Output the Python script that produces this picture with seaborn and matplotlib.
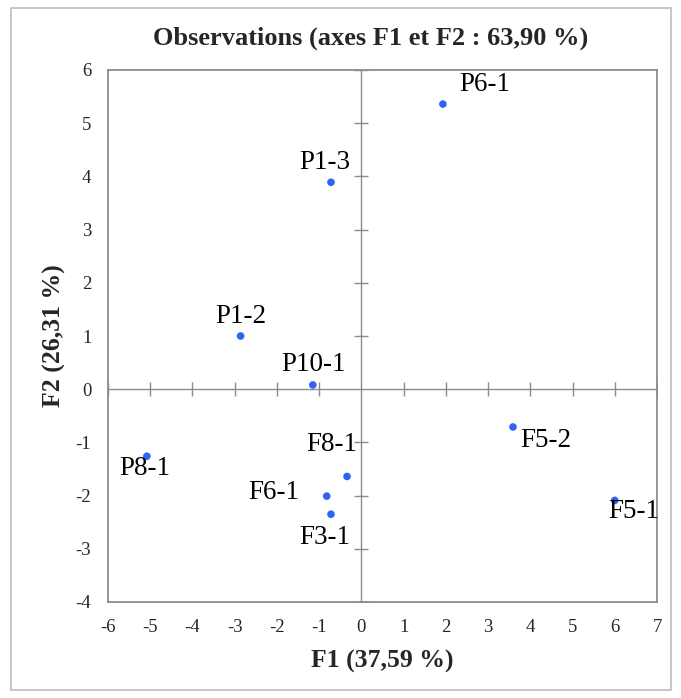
import matplotlib
matplotlib.use("Agg")
import matplotlib.pyplot as plt
import seaborn as sns
import pandas as pd
from matplotlib.patches import Rectangle

labels = ["P6-1", "P1-3", "P1-2", "P10-1", "P8-1", "F8-1", "F6-1", "F3-1", "F5-2", "F5-1"]
f1 = [1.93, -0.72, -2.86, -1.15, -5.08, -0.34, -0.82, -0.72, 3.59, 6.0]
f2 = [5.36, 3.89, 1.00, 0.08, -1.26, -1.64, -2.01, -2.35, -0.71, -2.09]
# label offsets in pixels (dx, dy) from the point to the label centre
offsets = {
    "P6-1": (42, 20),
    "P1-3": (-6, 20),
    "P1-2": (0, 20),
    "P10-1": (1, 20),
    "P8-1": (-2, -12),
    "F8-1": (-15, 32),
    "F6-1": (-53, 4),
    "F3-1": (-6, -23),
    "F5-2": (33, -14),
    "F5-1": (19, -11),
}
xticks = list(range(-6, 8))
yticks = list(range(-4, 7))

sns.set_style("white")
plt.rcParams["font.family"] = ["Liberation Serif", "DejaVu Serif"]

df = pd.DataFrame({"F1": f1, "F2": f2, "label": labels})

fig = plt.figure(figsize=(6.81, 6.98), dpi=100)
fig.patches.append(Rectangle((11 / 681, 8 / 698), 660 / 681, 682 / 698, transform=fig.transFigure,
                             fill=False, edgecolor="#bdbdbd", linewidth=1.2))
ax = fig.add_axes([108 / 681, 1 - 602 / 698, 549 / 681, 532 / 698])

ax.axhline(0, color="#8c8c8c", lw=1, zorder=1)
ax.axvline(0, color="#8c8c8c", lw=1, zorder=1)
ax.plot([t for t in xticks if t != 0], [0] * (len(xticks) - 1), linestyle="none", marker="|",
        markersize=10, color="#8c8c8c", mew=1, zorder=1)
ax.plot([0] * (len(yticks) - 1), [t for t in yticks if t != 0], linestyle="none", marker="_",
        markersize=10, color="#8c8c8c", mew=1, zorder=1)

sns.scatterplot(data=df, x="F1", y="F2", ax=ax, color="#2f63f5", s=30, edgecolor="none", zorder=3)

for lab, x, y in zip(labels, f1, f2):
    dx, dy = offsets[lab]
    ax.annotate(lab, (x, y), xytext=(dx, dy), textcoords="offset pixels", ha="center", va="center",
                fontsize=19.5, color="black", zorder=4)

ax.set_xlim(-6, 7)
ax.set_ylim(-4, 6)
ax.set_xticks(xticks)
ax.set_yticks(yticks)
ax.set_xticklabels([str(t) for t in xticks], fontsize=13.5)
ax.set_yticklabels([str(t) for t in yticks], fontsize=13.5)
ax.tick_params(axis="both", length=0, pad=12)
for s in ax.spines.values():
    s.set_color("#8c8c8c")
    s.set_linewidth(1.3)

ax.set_xlabel("F1 (37,59 %)", fontsize=18.5, fontweight="bold", labelpad=10)
ax.set_ylabel("F2 (26,31 %)", fontsize=18.5, fontweight="bold", labelpad=7)
fig.text(371 / 681, 1 - 38 / 698, "Observations (axes F1 et F2 : 63,90 %)",
         ha="center", va="center", fontsize=19, fontweight="bold")

fig.savefig("out.png", dpi=100)
